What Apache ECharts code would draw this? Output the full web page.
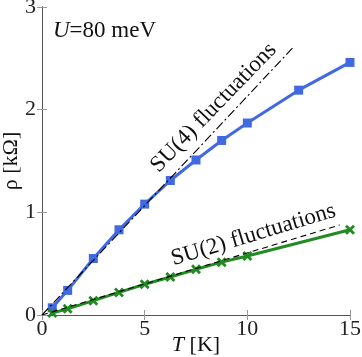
<!DOCTYPE html>
<html>
<head>
<meta charset="utf-8">
<script src="https://cdn.jsdelivr.net/npm/echarts@6/dist/echarts.min.js"></script>
<style>html,body{margin:0;padding:0;background:#fff;}#c{width:362px;height:357px;}</style>
</head>
<body>
<div id="c"></div>
<script>
// Data
const tempSU4 = [0.5, 1.25, 2.5, 3.75, 5, 6.25, 7.5, 8.75, 10, 12.5, 15];
const rhoSU4 = [0.07, 0.24, 0.55, 0.83, 1.08, 1.31, 1.51, 1.70, 1.87, 2.19, 2.46];
const tempSU2 = [0.5, 1.25, 2.5, 3.75, 5, 6.25, 7.5, 8.75, 10, 15];
const rhoSU2 = [0.02, 0.06, 0.14, 0.22, 0.30, 0.37, 0.445, 0.515, 0.575, 0.83];
const refSU4 = [[0, 0], [12.2, 2.6]];
const refSU2 = [[0, 0], [14.5, 0.877]];
const xTicks = [0, 5, 10, 15];
const yTicks = [0, 1, 2, 3];
const labelSU4 = {text: 'SU(4) fluctuations', at: [8.36, 2.02]};
const labelSU2 = {text: 'SU(2) fluctuations', at: [10.3, 0.78]};

const FONT = "'Liberation Serif', 'DejaVu Serif', serif";
const chart = echarts.init(document.getElementById('c'), null, {renderer: 'canvas'});

const axisCommon = {
  axisLine: {show: true, lineStyle: {color: '#555', width: 1}},
  axisTick: {show: true, inside: true, length: 5, lineStyle: {color: '#999'}},
  splitLine: {show: false}
};

const xyPairs = (xs, ys) => xs.map((x, i) => [x, ys[i]]);
const xMarker = 'path://M2,0 L5,3 L8,0 L10,2 L7,5 L10,8 L8,10 L5,7 L2,10 L0,8 L3,5 L0,2 Z';

chart.setOption({
  animation: false,
  grid: {left: 42, right: 12, top: 7, bottom: 42, containLabel: false, outerBoundsMode: 'none'},
  xAxis: [
    Object.assign({
      type: 'value', min: xTicks[0], max: xTicks[xTicks.length - 1], interval: 5,
      position: 'bottom',
      name: '{i|T} [K]', nameLocation: 'middle', nameGap: 19, nameMoveOverlap: false,
      nameTextStyle: {fontFamily: FONT, fontSize: 22, color: '#111',
        rich: {i: {fontFamily: FONT, fontSize: 22, fontStyle: 'italic', color: '#111'}}},
      axisLabel: {fontFamily: FONT, fontSize: 22, color: '#222', margin: 3}
    }, axisCommon),
    Object.assign({
      type: 'value', min: xTicks[0], max: xTicks[xTicks.length - 1], interval: 5,
      position: 'top', axisLabel: {show: false}
    }, axisCommon)
  ],
  yAxis: [
    Object.assign({
      type: 'value', min: yTicks[0], max: yTicks[yTicks.length - 1], interval: 1,
      position: 'left',
      name: 'ρ [kΩ]', nameLocation: 'middle', nameGap: 20, nameRotate: 90, nameMoveOverlap: false,
      nameTextStyle: {fontFamily: FONT, fontSize: 22, color: '#111'},
      axisLabel: {fontFamily: FONT, fontSize: 22, color: '#222', margin: 6}
    }, axisCommon),
    Object.assign({
      type: 'value', min: yTicks[0], max: yTicks[yTicks.length - 1], interval: 1,
      position: 'right', axisLabel: {show: false}
    }, axisCommon)
  ],
  series: [
    {
      type: 'line', data: xyPairs(tempSU4, rhoSU4),
      lineStyle: {color: '#4169E1', width: 3},
      itemStyle: {color: '#4169E1'},
      symbol: 'rect', symbolSize: 9, showAllSymbol: true, z: 2
    },
    {
      type: 'line', data: xyPairs(tempSU2, rhoSU2),
      lineStyle: {color: '#228B22', width: 3},
      itemStyle: {color: '#228B22'},
      symbol: xMarker, symbolSize: 10, showAllSymbol: true, z: 2
    },
    {
      type: 'line', data: refSU4, symbol: 'none', silent: true,
      lineStyle: {color: '#000', width: 1.1, type: [9, 3, 2, 3]}, z: 3
    },
    {
      type: 'line', data: refSU2, symbol: 'none', silent: true,
      lineStyle: {color: '#000', width: 1.1, type: [6, 4]}, z: 3
    }
  ]
});

function placeLabel(lbl, angleDeg, id) {
  const p = chart.convertToPixel({gridIndex: 0}, lbl.at);
  return {
    id: id, type: 'text', x: p[0], y: p[1], rotation: angleDeg * Math.PI / 180,
    style: {text: lbl.text, fontFamily: FONT, fontSize: 23, fill: '#111',
      align: 'center', verticalAlign: 'middle'}
  };
}
chart.setOption({
  graphic: [
    {
      type: 'text', left: 53, top: 19,
      style: {
        text: '{i|U}=80 meV', fontFamily: FONT, fontSize: 23, fill: '#111',
        rich: {i: {fontFamily: FONT, fontSize: 23, fontStyle: 'italic', fill: '#111'}}
      }
    },
    placeLabel(labelSU4, 46, 'su4'),
    placeLabel(labelSU2, 16.8, 'su2')
  ]
});
</script>
</body>
</html>
